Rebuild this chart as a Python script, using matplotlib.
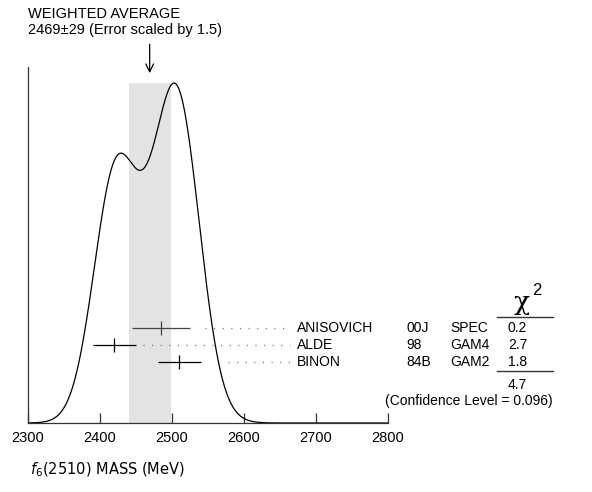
import numpy as np
import matplotlib
matplotlib.use('Agg')
import matplotlib.pyplot as plt

plt.rcParams['font.family'] = ['Liberation Sans', 'DejaVu Sans']

# measurements (PDG ideogram)
names = ['ANISOVICH', 'ALDE', 'BINON']
years = ['00J', '98', '84B']
techs = ['SPEC', 'GAM4', 'GAM2']
values = [2485, 2420, 2510]
errors = [40, 30, 30]
chi2 = ['0.2', '2.7', '1.8']
chi2_total = '4.7'
avg, avg_err = 2469, 29

fig = plt.figure(figsize=(5.92, 4.92), dpi=100)
ax = fig.add_axes([28/592, 69/492, 360/592, 356/492])

# ideogram: sum of gaussians, area ~ 1/sigma
x = np.linspace(2300, 2800, 1000)
curve = np.zeros_like(x)
for v, e in zip(values, errors):
    curve += np.exp(-0.5 * ((x - v) / e) ** 2) / e**2
curve = curve / curve.max() * 0.955

ax.axvspan(avg - avg_err, avg + avg_err, ymin=0, ymax=0.955, color='#e3e3e3', lw=0, zorder=0)
ax.plot(x, curve, color='black', lw=0.9)

row_y = [0.268, 0.220, 0.171]
bar_colors = ['#444444', 'black', 'black']
dot_start = [2546, 2460, 2578]
for i in range(len(names)):
    ax.errorbar(values[i], row_y[i], xerr=errors[i], fmt='|', ms=9.5, mew=0.9,
                color=bar_colors[i], elinewidth=0.9, capsize=0, clip_on=False)
    ax.plot([dot_start[i], 2664], [row_y[i], row_y[i]], color='#777777', lw=1,
            linestyle=(0, (0.8, 5.4)), clip_on=False)
    ax.text(2674, row_y[i], names[i], fontsize=10, va='center', ha='left')
    ax.text(2826, row_y[i], years[i], fontsize=10, va='center', ha='left')
    ax.text(2886, row_y[i], techs[i], fontsize=10, va='center', ha='left')
    ax.text(2980, row_y[i], chi2[i], fontsize=10, va='center', ha='center')

# chi^2 header, upright chi
ax.text(2986, 0.338, '\u03c7', fontsize=19, va='center', ha='center', family='DejaVu Serif')
ax.text(3007, 0.372, '2', fontsize=12, va='center', ha='center')
ax.plot([2951, 3029], [0.298, 0.298], color='#333333', lw=1, clip_on=False)
ax.plot([2951, 3029], [0.146, 0.146], color='#333333', lw=1, clip_on=False)
ax.text(2980, 0.107, chi2_total, fontsize=10, va='center', ha='center')
ax.text(3029, 0.062, '(Confidence Level = 0.096)', fontsize=10, va='center', ha='right')

ax.annotate('', xy=(avg, 0.975), xytext=(avg, 1.072), xycoords='data',
            arrowprops=dict(arrowstyle='->', color='black', lw=0.9, mutation_scale=14),
            annotation_clip=False)
fig.text(28/592, 1 - 14/492, 'WEIGHTED AVERAGE', fontsize=10.5, va='center', ha='left')
fig.text(28/592, 1 - 30/492, '2469\u00b129 (Error scaled by 1.5)', fontsize=10.5, va='center', ha='left')

ax.set_xlim(2300, 2800)
ax.set_ylim(0, 1)
ax.spines['top'].set_visible(False)
ax.spines['right'].set_visible(False)
for s in ['left', 'bottom']:
    ax.spines[s].set_linewidth(0.9)
    ax.spines[s].set_color('#333333')
ax.set_yticks([])
ax.set_xticks([2300, 2400, 2500, 2600, 2700, 2800])
ax.tick_params(axis='x', direction='in', length=7, width=0.9, color='#333333',
               labelsize=10.5, pad=6)

fig.text(30/592, 1 - 470/492, r'$f_6$(2510) MASS (MeV)', fontsize=10.5, va='center',
         ha='left', family='DejaVu Sans')

fig.savefig('out.png', dpi=100)
